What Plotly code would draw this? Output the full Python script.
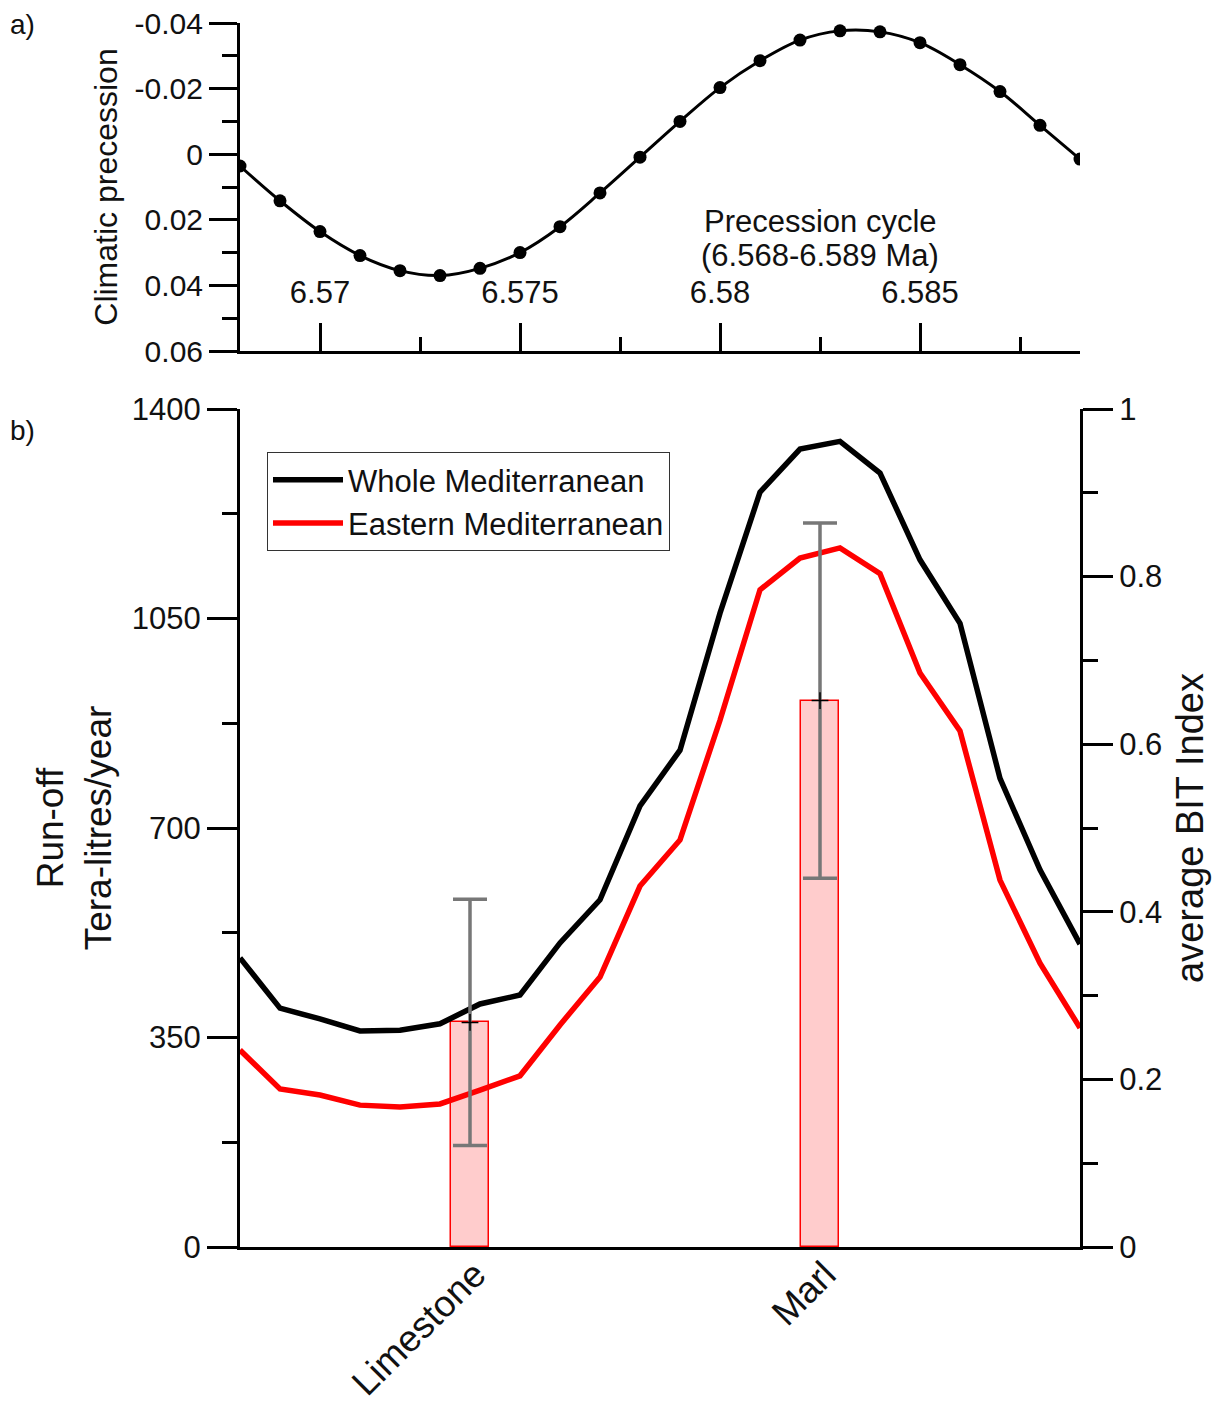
import plotly.graph_objects as go

# ---- data ----
age_ma = [6.568, 6.569, 6.570, 6.571, 6.572, 6.573, 6.574, 6.575, 6.576, 6.577, 6.578,
          6.579, 6.580, 6.581, 6.582, 6.583, 6.584, 6.585, 6.586, 6.587, 6.588, 6.589]
precession = [0.0036, 0.0142, 0.0236, 0.0309, 0.0355, 0.0370, 0.0348, 0.0300, 0.0221, 0.0118, 0.0009,
              -0.0100, -0.0203, -0.0285, -0.0348, -0.0376, -0.0373, -0.0340, -0.0273, -0.0191, -0.0088, 0.0015]
runoff_whole = [483, 399, 381, 361, 362, 373, 406, 421, 508, 580, 737,
                830, 1059, 1261, 1333, 1346, 1293, 1148, 1042, 783, 630, 506]
runoff_east = [329, 264, 254, 237, 234, 239, 262, 286, 371, 451, 603,
               680, 880, 1098, 1151, 1168, 1125, 959, 862, 613, 474, 366]
lithology = ["Limestone", "Marl"]
lith_age = [6.57375, 6.5825]
bit_mean = [0.268, 0.652]
bit_err = [0.147, 0.212]

prec_ticks = [-0.04, -0.02, 0, 0.02, 0.04, 0.06]
prec_ticktext = ["-0.04", "-0.02", "0", "0.02", "0.04", "0.06"]
age_ticks = [6.57, 6.575, 6.58, 6.585]
age_ticktext = ["6.57", "6.575", "6.58", "6.585"]
runoff_ticks = [0, 350, 700, 1050, 1400]
bit_ticks = [0, 0.2, 0.4, 0.6, 0.8, 1]
bit_ticktext = ["0", "0.2", "0.4", "0.6", "0.8", "1"]

FONT = "Liberation Sans, Arial, sans-serif"
TXT = "#111111"

# page offset of the figure (default body margin of the html page)
OFF = 8
# plot area in page pixels: x 240..1080, y 22..1247
PLOT_BOT, PLOT_H = 1247, 1225
def py(pix):
    return (PLOT_BOT - pix) / PLOT_H
def px(pix):
    return (pix - 240) / 840

fig = go.Figure()

# panel a
fig.add_trace(go.Scatter(
    x=age_ma, y=precession, mode="lines+markers",
    line=dict(color="black", width=3, shape="spline"),
    marker=dict(color="black", size=13),
    xaxis="x", yaxis="y", showlegend=False))
# invisible trace carrying the label-only age axis of panel a
fig.add_trace(go.Scatter(
    x=age_ma, y=precession, mode="markers", marker=dict(opacity=0, size=1),
    hoverinfo="skip", xaxis="x3", yaxis="y", showlegend=False))

# panel b: bars (BIT) on y2 (right)
fig.add_trace(go.Bar(
    x=lith_age, y=bit_mean, width=0.00095,
    marker=dict(color="rgba(255,0,0,0.2)", line=dict(color="red", width=1.5)),
    xaxis="x2", yaxis="y2", showlegend=False))

# run-off lines on y3 (left)
fig.add_trace(go.Scatter(
    x=age_ma, y=runoff_whole, mode="lines", name="Whole Mediterranean",
    line=dict(color="black", width=5.5), xaxis="x2", yaxis="y3"))
fig.add_trace(go.Scatter(
    x=age_ma, y=runoff_east, mode="lines", name="Eastern Mediterranean",
    line=dict(color="#ff0000", width=5.5), xaxis="x2", yaxis="y3"))

# error bars on y4 (same scale as BIT)
fig.add_trace(go.Scatter(
    x=lith_age, y=bit_mean, mode="markers",
    marker=dict(symbol="cross-thin", size=12, color="black", line=dict(color="black", width=1.5)),
    error_y=dict(type="data", array=bit_err, color="#777777", thickness=3.5, width=17),
    xaxis="x2", yaxis="y4", showlegend=False))

axis_common = dict(showline=True, linecolor="black", linewidth=3, tickcolor="black",
                   tickwidth=3, showgrid=False, zeroline=False, automargin=False,
                   ticklabeloverflow="allow",
                   tickfont=dict(family=FONT, size=31, color=TXT))

fig.update_layout(
    width=1228 - OFF, height=1405 - OFF,
    margin=dict(l=240 - OFF, r=148, t=22 - OFF, b=158, autoexpand=False),
    paper_bgcolor="white", plot_bgcolor="white",
    font=dict(family=FONT, color=TXT),
    xaxis=dict(domain=[0, 1], range=[6.568, 6.589], anchor="y",
               tickvals=age_ticks, showticklabels=False,
               ticks="inside", ticklen=28,
               minor=dict(dtick=0.0025, tick0=6.5675, ticks="inside", ticklen=14,
                          tickwidth=3, tickcolor="black"),
               **axis_common),
    # label-only overlay axis for panel a's age labels (drawn inside the panel)
    xaxis3=dict(range=[6.568, 6.589], overlaying="x", anchor="free", position=py(271),
                side="bottom", tickvals=age_ticks, ticktext=age_ticktext,
                showline=False, ticks="", showgrid=False, zeroline=False, automargin=False,
                ticklabeloverflow="allow",
                tickfont=dict(family=FONT, size=31, color=TXT)),
    yaxis=dict(domain=[py(351), py(23)], range=[0.06, -0.04], anchor="x",
               tickvals=prec_ticks, ticktext=prec_ticktext,
               ticks="outside", ticklen=28,
               minor=dict(dtick=0.01, tick0=0, ticks="outside", ticklen=15,
                          tickwidth=3, tickcolor="black"),
               title=dict(text="Climatic precession", standoff=8,
                          font=dict(family=FONT, size=32, color=TXT)),
               **{**axis_common, "tickfont": dict(family=FONT, size=30, color=TXT)}),
    xaxis2=dict(domain=[0, 1], range=[6.568, 6.589], anchor="y3",
                tickvals=lith_age, ticktext=lithology, ticks="",
                tickangle=-45, ticklabelstandoff=-12, ticklabelshift=5,
                **{**axis_common, "tickfont": dict(family=FONT, size=37, color=TXT)}),
    yaxis2=dict(domain=[0, py(409)], range=[0, 1], anchor="x2", side="right",
                tickvals=bit_ticks, ticktext=bit_ticktext,
                ticks="outside", ticklen=30,
                minor=dict(dtick=0.1, tick0=0, ticks="outside", ticklen=15,
                           tickwidth=3, tickcolor="black"),
                title=dict(text="average BIT Index", standoff=16,
                           font=dict(family=FONT, size=38, color=TXT)),
                **axis_common),
    yaxis3=dict(domain=[0, py(409)], range=[0, 1400], anchor="x2", overlaying="y2", side="left",
                tickvals=runoff_ticks, ticks="outside", ticklen=30,
                minor=dict(dtick=175, tick0=0, ticks="outside", ticklen=15,
                           tickwidth=3, tickcolor="black"),
                title=dict(text="Run-off<br>Tera-litres/year", standoff=9,
                           font=dict(family=FONT, size=37, color=TXT)),
                **axis_common),
    yaxis4=dict(domain=[0, py(409)], range=[0, 1], anchor="x2", overlaying="y2", visible=False),
    legend=dict(x=px(267), y=py(452), xanchor="left", yanchor="top",
                bgcolor="white", bordercolor="#333333", borderwidth=1,
                font=dict(family=FONT, size=31, color=TXT),
                itemwidth=70, tracegroupgap=0),
    bargap=0,
)

fig.add_annotation(text="Precession cycle", x=6.5825, y=py(222), xref="x", yref="paper",
                   showarrow=False, yanchor="middle", font=dict(family=FONT, size=31, color=TXT))
fig.add_annotation(text="(6.568-6.589 Ma)", x=6.5825, y=py(256), xref="x", yref="paper",
                   showarrow=False, yanchor="middle", font=dict(family=FONT, size=31, color=TXT))
fig.add_annotation(text="a)", x=px(8), y=py(24), xref="paper", yref="paper",
                   showarrow=False, xanchor="left", yanchor="middle",
                   font=dict(family=FONT, size=28, color=TXT))
fig.add_annotation(text="b)", x=px(8), y=py(430), xref="paper", yref="paper",
                   showarrow=False, xanchor="left", yanchor="middle",
                   font=dict(family=FONT, size=28, color=TXT))

fig.write_html("out.html")
